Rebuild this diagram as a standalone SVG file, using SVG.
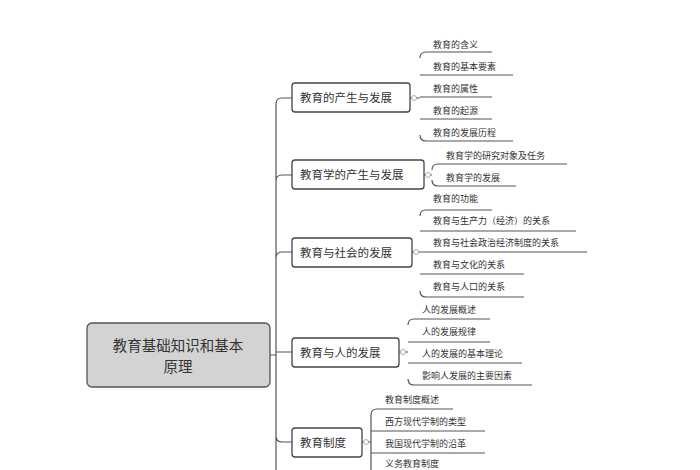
<svg xmlns="http://www.w3.org/2000/svg" width="700" height="470" viewBox="0 0 700 470">
<style>
text{font-family:"Noto Sans CJK SC","Noto Sans",sans-serif;fill:#333}
.b{fill:#fff;stroke:#444;stroke-width:1.3}
.bt{font-size:11.5px}
.l{font-size:9px}
.c{fill:none;stroke:#555;stroke-width:1.2}
.k{fill:#fff;stroke:#999;stroke-width:0.8}
</style>
<rect width="700" height="470" fill="#fff"/>
<g id="connectors" class="c">
<path d="M270 355H276M276 470V104Q276 98 282 98H292M276 181Q276 175 282 175H292M276 258Q276 252 282 252H292M276 352H292M276 436Q276 442 282 442H292"/>
<path d="M410 98H420M420 58Q420 52 426 52H492M420 75H513M420 97H492M420 119H492M420 135Q420 141 426 141H513"/>
<path d="M424 175H432M432 170Q432 164 438 164H567M432 180Q432 186 438 186H516"/>
<path d="M412 252H420M420 216Q420 210 426 210H492M420 231H576M420 252H587M420 274H524M420 291Q420 297 426 297H524"/>
<path d="M399 352H408M408 325Q408 319 414 319H490M408 342H490M408 363H522M408 379Q408 385 414 385H532"/>
<path d="M362 442H371M371 415Q371 409 377 409H453M371 431H485M371 453H485M371 470V415"/>
</g>
<g id="root"><rect x="87" y="323" width="183" height="64" rx="5" fill="#d3d3d3" stroke="#555" stroke-width="1.3"/>
<text x="178" y="351" font-size="14.5" text-anchor="middle">教育基础知识和基本</text>
<text x="178" y="372" font-size="14.5" text-anchor="middle">原理</text></g>
<g id="n1"><rect class="b" x="292" y="83" width="118" height="29" rx="3"/><text class="bt" x="300" y="102">教育的产生与发展</text><circle class="k" cx="414" cy="98" r="2.5"/></g>
<g id="n2"><rect class="b" x="292" y="160" width="132" height="29" rx="3"/><text class="bt" x="300" y="179">教育学的产生与发展</text><circle class="k" cx="428" cy="175" r="2.5"/></g>
<g id="n3"><rect class="b" x="292" y="238" width="120" height="29" rx="3"/><text class="bt" x="300" y="257">教育与社会的发展</text><circle class="k" cx="416" cy="252" r="2.5"/></g>
<g id="n4"><rect class="b" x="292" y="338" width="107" height="29" rx="3"/><text class="bt" x="300" y="357">教育与人的发展</text><circle class="k" cx="403" cy="352" r="2.5"/></g>
<g id="n5"><rect class="b" x="292" y="428" width="70" height="29" rx="3"/><text class="bt" x="300" y="447">教育制度</text><circle class="k" cx="366" cy="442" r="2.5"/></g>
<g id="leaves" class="l">
<text class="l" x="433" y="48">教育的含义</text><text class="l" x="433" y="70">教育的基本要素</text><text class="l" x="433" y="92">教育的属性</text><text class="l" x="433" y="114">教育的起源</text><text class="l" x="433" y="136">教育的发展历程</text>
<text class="l" x="446" y="159">教育学的研究对象及任务</text><text class="l" x="446" y="181">教育学的发展</text>
<text class="l" x="433" y="202">教育的功能</text><text class="l" x="433" y="224">教育与生产力（经济）的关系</text><text class="l" x="433" y="246">教育与社会政治经济制度的关系</text><text class="l" x="433" y="268">教育与文化的关系</text><text class="l" x="433" y="290">教育与人口的关系</text>
<text class="l" x="422" y="313">人的发展概述</text><text class="l" x="422" y="335">人的发展规律</text><text class="l" x="422" y="357">人的发展的基本理论</text><text class="l" x="422" y="379">影响人发展的主要因素</text>
<text class="l" x="385" y="403">教育制度概述</text><text class="l" x="385" y="425">西方现代学制的类型</text><text class="l" x="385" y="447">我国现代学制的沿革</text><text class="l" x="385" y="467">义务教育制度</text>
</g>
</svg>
